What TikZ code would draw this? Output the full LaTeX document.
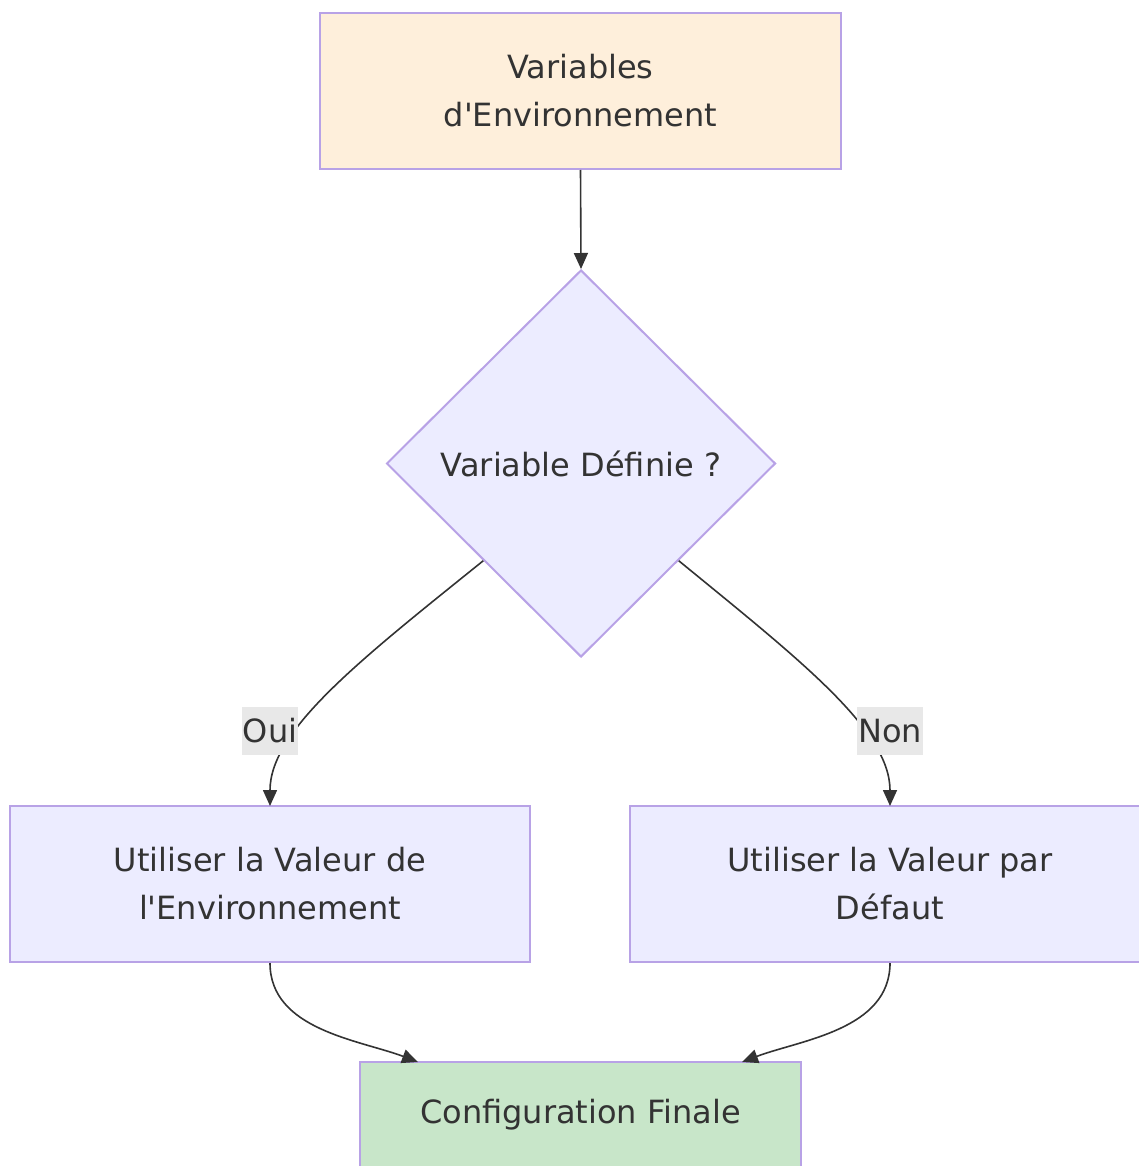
\documentclass[tikz,border=0pt]{standalone}
\usepackage{fontspec}
\setmainfont{DejaVu Sans}[Ligatures=TeXOff]
\usetikzlibrary{shapes.geometric,arrows.meta}
\definecolor{strokeP}{HTML}{B8A2E6}
\definecolor{fillTop}{HTML}{FEEFDB}
\definecolor{fillBlue}{HTML}{ECECFF}
\definecolor{fillGreen}{HTML}{C8E6C9}
\definecolor{txt}{HTML}{333333}
\definecolor{edgeC}{HTML}{333333}
\definecolor{lblBg}{HTML}{E8E8E8}
\begin{document}
\begin{tikzpicture}[x=1pt,y=-1pt,
  every node/.style={font=\fontsize{32}{48}\selectfont, text=txt},
  box/.style={draw=strokeP, line width=2pt, rectangle, inner sep=0pt, align=center},
  edge/.style={draw=edgeC, line width=1.6pt, -{Triangle[length=16pt,width=14pt]}},
  lbl/.style={fill=lblBg, inner sep=1pt, minimum height=48pt}
]
\useasboundingbox (0,0) rectangle (1138,1166);
\node[box, fill=fillTop, minimum width=521pt, minimum height=156pt] (env) at (580.5,91) {Variables\\d'Environnement};
\node[draw=strokeP, line width=2pt, fill=fillBlue, diamond, aspect=1, inner sep=0pt, minimum width=389pt, minimum height=387pt] (dia) at (581,463.5) {Variable Définie ?};
\node[box, fill=fillBlue, minimum width=520pt, minimum height=156pt] (useenv) at (270,884) {Utiliser la Valeur de\\l'Environnement};
\node[box, fill=fillBlue, minimum width=520pt, minimum height=156pt] (usedef) at (890,884) {Utiliser la Valeur par\\Défaut};
\node[box, fill=fillGreen, minimum width=441pt, minimum height=106pt] (final) at (580.5,1115) {Configuration Finale};

\draw[edge] (env.south) -- (dia.north);
\draw[edge] (dia.south west) .. controls (360,660) and (270,730) .. (270,806);
\draw[edge] (dia.south east) .. controls (800,660) and (890,730) .. (890,806);
\draw[edge] (useenv.south) .. controls (270,1030) and (360,1040) .. (418,1062);
\draw[edge] (usedef.south) .. controls (890,1030) and (800,1040) .. (742,1062);

\node[lbl] (oui) at (270,731) {Oui};
\node[lbl] (non) at (890,731) {Non};
\end{tikzpicture}
\end{document}
